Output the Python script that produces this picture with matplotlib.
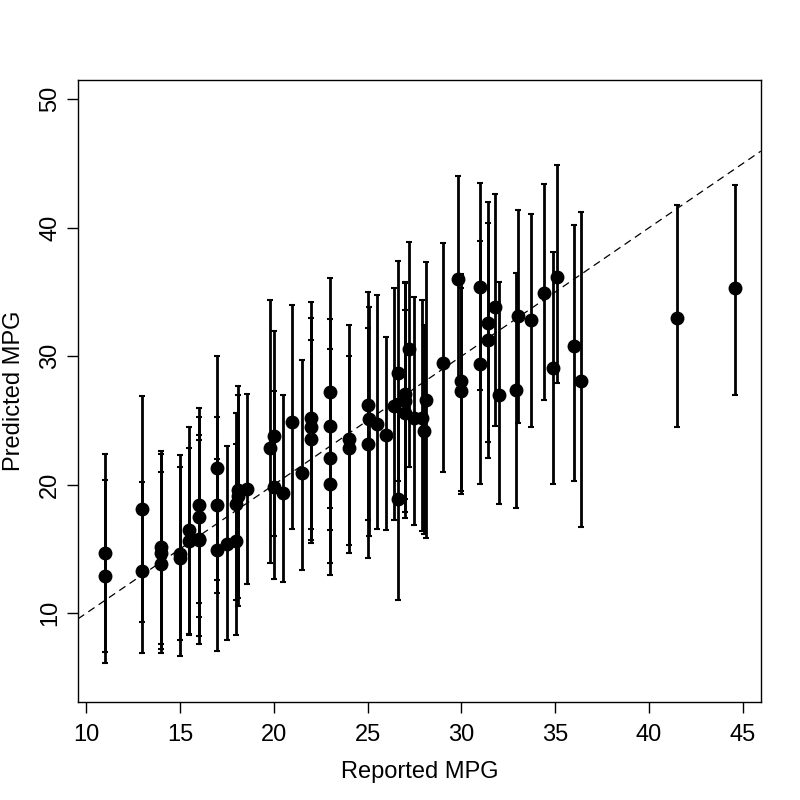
import matplotlib
matplotlib.use("Agg")
import matplotlib.pyplot as plt
import numpy as np

plt.rcParams['font.family'] = ['Liberation Sans', 'DejaVu Sans']

# reported mpg, predicted mpg and the interval ends
reported = [11, 11, 13, 13, 14, 14, 14, 15, 15, 15.5, 15.5, 16, 16, 16, 16,
            17, 17, 17, 17.5, 18, 18, 18.1, 18.1, 18.6, 19.8, 20, 20, 20.5,
            21, 21.5, 22, 22, 22, 23, 23, 23, 23, 24, 24, 25, 25.1, 25, 25.5,
            26, 26.4, 26.6, 26.6, 27, 27, 27, 27.2, 27.5, 27.9, 28, 28.1, 29,
            29.8, 30, 30, 31, 31, 31.4, 31.4, 31.8, 32, 32.9, 33, 33.7, 34.4,
            35.1, 34.9, 36, 36.4, 41.5, 44.6]
predicted = [14.7, 12.9, 18.1, 13.3, 15.2, 14.7, 13.8, 14.6, 14.3, 16.5, 15.6,
             18.4, 17.5, 15.8, 15.7, 21.3, 18.4, 14.9, 15.4, 15.6, 18.5, 19.1,
             19.6, 19.7, 22.9, 23.8, 19.8, 19.4, 24.9, 20.9, 25.2, 24.5, 23.6,
             27.2, 24.6, 22.1, 20.1, 23.6, 22.9, 26.2, 25.1, 23.2, 24.7, 23.9,
             26.1, 28.7, 18.9, 27.1, 26.5, 25.6, 30.6, 25.2, 25.2, 24.2, 26.6,
             29.5, 36.0, 28.1, 27.3, 35.4, 29.4, 32.6, 31.3, 33.8, 27.0, 27.4,
             33.1, 32.8, 34.9, 36.2, 29.1, 30.8, 28.1, 33.0, 35.3]
lower = [7.0, 6.1, 9.3, 6.9, 7.6, 7.2, 6.9, 6.7, 7.9, 8.4, 8.3, 10.8, 9.7,
         8.2, 7.6, 12.6, 11.6, 7.1, 7.9, 8.3, 11.0, 10.6, 11.2, 12.3, 13.9,
         16.0, 12.7, 12.4, 16.6, 13.4, 16.6, 15.7, 15.5, 18.2, 16.5, 13.9,
         13.0, 14.7, 15.3, 17.3, 16.0, 14.3, 16.6, 16.5, 17.3, 20.3, 11.0,
         18.9, 17.9, 17.4, 21.4, 16.9, 16.4, 16.2, 15.9, 21.0, 28.0, 19.5,
         19.3, 27.4, 20.1, 23.3, 22.1, 24.6, 18.5, 18.2, 24.8, 24.5, 26.6,
         27.9, 20.1, 20.3, 16.7, 24.5, 27.0]
upper = [22.4, 20.4, 26.9, 20.2, 22.6, 22.4, 21.0, 22.3, 21.4, 24.5, 22.9,
         26.0, 25.3, 23.5, 23.9, 30.0, 25.3, 22.0, 23.0, 23.2, 25.6, 27.0,
         27.7, 27.1, 34.4, 32.0, 27.3, 27.0, 34.0, 29.7, 34.2, 33.0, 31.3,
         36.1, 32.9, 30.6, 27.5, 32.4, 30.0, 35.0, 33.8, 32.2, 34.8, 31.5,
         35.3, 37.4, 26.7, 35.8, 35.7, 33.6, 38.9, 34.6, 34.4, 32.4, 37.3,
         38.8, 44.0, 36.4, 35.3, 43.5, 39.0, 42.0, 40.4, 42.6, 35.8, 36.5,
         41.4, 41.1, 43.4, 44.9, 38.1, 40.2, 41.2, 41.8, 43.3]

x = np.array(reported)
y = np.array(predicted)
err = [y - np.array(lower), np.array(upper) - y]

fig = plt.figure(figsize=(8, 8), dpi=100)
ax = fig.add_axes([0.0975, 0.1225, 0.8535, 0.7775])

ax.errorbar(x, y, yerr=err, fmt='o', color='black', ecolor='black',
            markersize=9, elinewidth=2, capsize=2, capthick=1.5)
ax.axline((0, 0), slope=1, color='black', lw=0.9, ls=(0, (6, 4)))

ax.set_xlim(9.57, 45.96)
ax.set_ylim(3.1, 51.5)
ax.set_xticks(range(10, 46, 5))
ax.set_yticks(range(10, 51, 10))
ax.set_yticklabels([str(v) for v in range(10, 51, 10)], rotation=90,
                   va='center')
ax.tick_params(direction='out', length=8, width=1, labelsize=17)
ax.tick_params(axis='x', pad=8)
ax.tick_params(axis='y', pad=4)
for s in ax.spines.values():
    s.set_linewidth(1)

ax.set_xlabel('Reported MPG', fontsize=17)
ax.set_ylabel('Predicted MPG', fontsize=17)
ax.xaxis.set_label_coords(0.5, -0.095)
ax.yaxis.set_label_coords(-0.078, 0.5)

fig.savefig('out.png', dpi=100)
